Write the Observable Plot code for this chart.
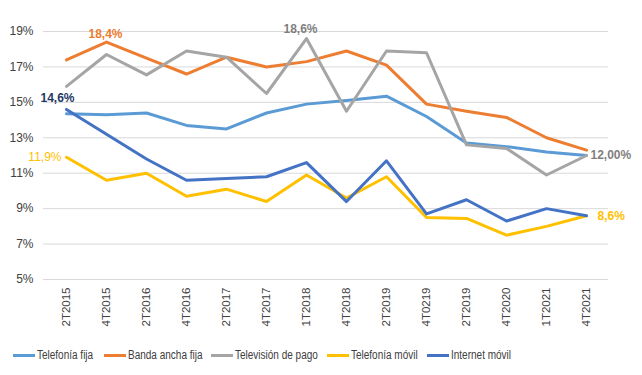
<!DOCTYPE html>
<html><head><meta charset="utf-8">
<script src="https://cdn.jsdelivr.net/npm/d3@7"></script>
<script src="https://cdn.jsdelivr.net/npm/@observablehq/plot@0.6"></script>
<style>
body{margin:0;background:#fff;font-family:"Liberation Sans",Arial,sans-serif;}
#wrap{position:relative;width:642px;height:375px;}
#legend{position:absolute;left:0;top:335px;width:642px;height:40px;}
.item{position:absolute;top:13px;display:flex;align-items:center;font-family:"Liberation Sans",Arial,sans-serif;font-size:12.5px;color:#404040;white-space:nowrap;}
.sw{width:22px;height:3px;margin-right:2px;}
.tx{display:inline-block;transform:scaleX(0.8);transform-origin:left center;}
</style></head><body>
<div id="wrap"><div id="chart"></div><div id="legend"></div></div>
<script>
const periods = ["2T2015","4T2015","2T2016","4T2016","2T2017","4T2017","1T2018","4T2018","2T2019","4T0219","2T2019","4T2020","1T2021","4T2021"];
const seriesNames = ["Telefonía fija","Banda ancha fija","Televisión de pago","Telefonía móvil","Internet móvil"];
const seriesColors = ["#5B9BD5","#ED7D31","#A5A5A5","#FFC000","#4472C4"];
const telefoniaFija   = [14.35,14.3,14.4,13.7,13.5,14.4,14.9,15.1,15.35,14.2,12.7,12.5,12.2,12.0];
const bandaAnchaFija  = [17.4,18.4,17.5,16.6,17.55,17.0,17.3,17.9,17.1,14.9,14.5,14.15,13.0,12.3];
const television      = [15.9,17.7,16.55,17.9,17.55,15.5,18.6,14.5,17.9,17.8,12.6,12.4,10.9,12.0];
const telefoniaMovil  = [11.9,10.6,11.0,9.7,10.1,9.4,10.9,9.6,10.8,8.5,8.45,7.5,8.0,8.6];
const internetMovil   = [14.6,13.2,11.8,10.6,10.7,10.8,11.6,9.4,11.7,8.7,9.5,8.3,9.0,8.6];
const yTicks = [5,7,9,11,13,15,17,19];
// labels: series index, period index, decimals
const labelSeries = [1,2,4,3,2,3];
const labelIndex  = [1,6,0,0,13,13];
const labelDecimals = [1,1,1,1,2,1];

const allSeries = [telefoniaFija,bandaAnchaFija,television,telefoniaMovil,internetMovil];
const rows = [];
allSeries.forEach((vals,s)=>vals.forEach((v,i)=>rows.push({s,i,v})));

const labelStyle = [
  {dx:-1,dy:-8,anchor:"middle",color:"#ED7D31",weight:"bold"},
  {dx:-6,dy:-9,anchor:"middle",color:"#7F7F7F",weight:"bold"},
  {dx:8,dy:-11,anchor:"end",color:"#1F3864",weight:"bold"},
  {dx:-5,dy:0,anchor:"end",color:"#FFC000",weight:"normal"},
  {dx:4,dy:0,anchor:"start",color:"#7F7F7F",weight:"bold"},
  {dx:11,dy:0,anchor:"start",color:"#FFC000",weight:"bold"}
];
const labels = labelSeries.map((s,k)=>{
  const v = allSeries[s][labelIndex[k]];
  return {i:labelIndex[k], v, text: v.toFixed(labelDecimals[k]).replace(".",",")+"%", ...labelStyle[k]};
});

const chart = Plot.plot({
  width:642, height:335,
  marginLeft:43, marginRight:34, marginTop:31, marginBottom:56,
  style:{fontFamily:"'Liberation Sans',Arial,sans-serif", fontSize:"12px", color:"#404040", background:"#fff"},
  x:{type:"point", domain:d3.range(periods.length), padding:0.5, label:null},
  y:{domain:[5,19], label:null},
  marks:[
    Plot.gridY(yTicks,{stroke:"#D9D9D9", strokeOpacity:1, strokeWidth:1}),
    Plot.axisY(yTicks,{tickSize:0, tickPadding:10, tickFormat:d=>d+"%", fontSize:12, label:null}),
    Plot.axisX({tickSize:0, tickPadding:8, tickRotate:-90, tickFormat:i=>periods[i], fontSize:11.5, label:null}),
    ...allSeries.map((vals,s)=>Plot.line(rows.filter(r=>r.s===s),{x:"i",y:"v",stroke:seriesColors[s],strokeWidth:3,strokeLinejoin:"round"})),
    ...labels.map(l=>Plot.text([l],{x:"i",y:"v",text:"text",dx:l.dx,dy:l.dy,textAnchor:l.anchor,fill:l.color,fontWeight:l.weight,fontSize:12}))
  ]
});
document.getElementById("chart").appendChild(chart);

const legendLeft = [13,104,211,327,427];
const lg = document.getElementById("legend");
seriesNames.forEach((n,k)=>{
  const d=document.createElement("div");d.className="item";d.style.left=legendLeft[k]+"px";
  d.innerHTML=`<span class="sw" style="background:${seriesColors[k]}"></span><span class="tx">${n}</span>`;
  lg.appendChild(d);
});
</script></body></html>
